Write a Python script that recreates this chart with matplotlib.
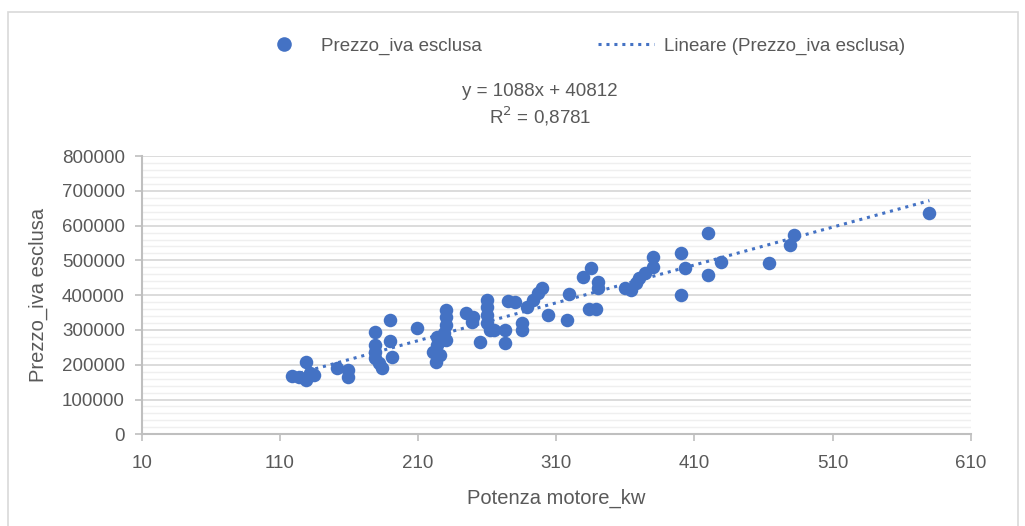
import numpy as np
import matplotlib.pyplot as plt
from matplotlib.lines import Line2D
from matplotlib.patches import Rectangle
from matplotlib.ticker import MultipleLocator

# values
potenza_kw = [119, 124, 129, 135, 129, 132, 151, 159, 159,
              179, 179, 179, 179, 182, 184, 190, 190, 191, 209,
              230, 230, 230, 229, 227, 224, 221, 223, 224, 230, 226,
              245, 250, 249, 260, 260, 260, 260, 262, 265, 255,
              273, 273, 275, 280, 285, 285, 289, 293, 297, 300, 304,
              319, 318, 329, 335, 340, 340, 334, 339,
              360, 364, 368, 370, 374, 380, 380, 400, 403, 400,
              420, 420, 429, 464, 479, 482, 580]
prezzo = [168000, 165000, 156000, 170000, 209000, 177000, 190000, 185000, 166000,
          295000, 257000, 237000, 218000, 204000, 190000, 328000, 268000, 223000, 305000,
          357000, 338000, 314000, 290000, 271000, 280000, 237000, 209000, 257000, 271000, 228000,
          348000, 338000, 324000, 386000, 367000, 343000, 319000, 300000, 300000, 266000,
          300000, 263000, 384000, 381000, 319000, 300000, 367000, 386000, 405000, 420000, 343000,
          403000, 330000, 453000, 477000, 438000, 420000, 359000, 359000,
          420000, 415000, 434000, 448000, 463000, 510000, 482000, 520000, 477000, 400000,
          580000, 458000, 496000, 493000, 544000, 573000, 635000]
slope = 1088
intercept = 40812
r2_text = "0,8781"

x_ticks = [10, 110, 210, 310, 410, 510, 610]

blue = '#4472C4'
grey_txt = '#595959'
plt.rcParams['font.family'] = ['Liberation Sans', 'DejaVu Sans']

fig = plt.figure(figsize=(10.25, 5.26), dpi=100)
fig.patches.append(Rectangle((8 / 1025, -0.05), 1010 / 1025, 1.05 - 12 / 526,
                             transform=fig.transFigure, fill=False,
                             edgecolor='#d9d9d9', linewidth=1.2))

ax = fig.add_axes([0.1382, 0.1743, 0.809, 0.529])
ax.scatter(potenza_kw, prezzo, s=95, color=blue, zorder=3, linewidths=0)

xs = np.array([min(potenza_kw), max(potenza_kw)])
ax.plot(xs, slope * xs + intercept, color=blue, linewidth=2.2,
        linestyle=(0, (1.0, 1.6)), dash_capstyle='butt', zorder=4)

ax.set_xlim(10, 610)
ax.set_ylim(0, 800000)
ax.set_xticks(x_ticks)
ax.yaxis.set_major_locator(MultipleLocator(100000))
ax.yaxis.set_minor_locator(MultipleLocator(20000))
ax.grid(axis='y', which='major', color='#d9d9d9', linewidth=1.3, zorder=0)
ax.grid(axis='y', which='minor', color='#efefef', linewidth=1.0, zorder=0)
ax.set_axisbelow(True)

for side in ['top', 'right']:
    ax.spines[side].set_visible(False)
for side in ['left', 'bottom']:
    ax.spines[side].set_color('#bfbfbf')
    ax.spines[side].set_linewidth(1.5)
ax.tick_params(which='major', length=5, width=1.2, color='#bfbfbf',
               labelcolor=grey_txt, labelsize=13.5)
ax.tick_params(axis='y', pad=7)
ax.tick_params(axis='x', pad=10)
ax.tick_params(which='minor', length=0)
ax.yaxis.set_major_formatter(plt.FuncFormatter(lambda v, p: '%d' % v))

ax.set_xlabel('Potenza motore_kw', fontsize=14.5, color=grey_txt, labelpad=12)
ax.set_ylabel('Prezzo_iva esclusa', fontsize=14.5, color=grey_txt, labelpad=10)

handles = [Line2D([], [], marker='o', linestyle='none', markersize=10.5,
                  markerfacecolor=blue, markeredgewidth=0),
           Line2D([], [], color=blue, linewidth=2.2, linestyle=(0, (1.0, 1.6)))]
fig.legend(handles, ['Prezzo_iva esclusa', 'Lineare (Prezzo_iva esclusa)'],
           loc='center', bbox_to_anchor=(0.566, 0.912), ncol=2, frameon=False,
           fontsize=13.5, labelcolor=grey_txt, handlelength=3.0,
           handletextpad=0.5, columnspacing=6.2)

fig.text(0.527, 0.826, 'y = %dx + %d' % (slope, intercept), ha='center', va='center',
         fontsize=13.5, color=grey_txt)
fig.text(0.527, 0.779, 'R$^2$ = ' + r2_text, ha='center', va='center',
         fontsize=13.5, color=grey_txt)

fig.savefig('out.png', dpi=100)
